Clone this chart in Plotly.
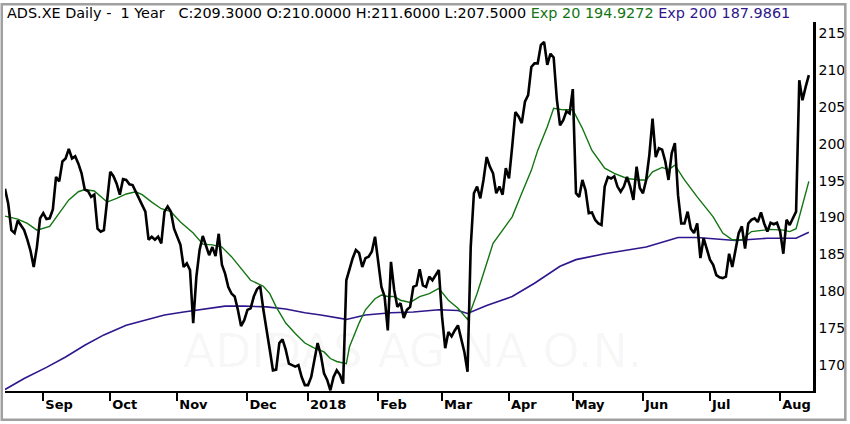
import pandas as pd
import plotly.graph_objects as go

# ADS.XE daily closes, one value per Xetra session, 16 Aug 2017 - 14 Aug 2018
closes = [
    193.9, 191.9, 188.3, 187.9, 189.6, 189.0, 188.3, 187.0, 185.5, 183.3,
    186.0, 189.9, 190.6, 189.8, 189.9, 191.1, 195.5, 194.9, 197.6, 198.0,
    199.3, 198.0, 198.3, 197.3, 196.0, 193.8, 193.6, 192.8, 193.1, 188.5,
    188.1, 188.3, 192.4, 196.2, 195.6, 194.6, 193.1, 195.2, 195.1, 194.5,
    194.4, 193.5, 192.4, 191.7, 190.8, 187.0, 187.4, 187.0, 187.4, 186.5,
    190.8, 191.5, 190.8, 188.5, 187.4, 186.3, 183.3, 183.8, 182.9, 175.7,
    182.0, 185.6, 187.5, 186.3, 184.9, 186.0, 184.8, 187.8, 183.6, 182.4,
    180.6, 179.7, 179.3, 177.5, 175.3, 176.1, 177.5, 177.7, 179.3, 180.3,
    180.7, 177.5, 174.5, 172.1, 169.3, 169.4, 173.0, 173.5, 172.1, 170.2,
    170.0, 169.8, 170.0, 168.4, 167.3, 167.3, 168.4, 170.9, 173.0, 171.4,
    168.9, 168.0, 166.6, 168.4, 169.3, 168.7, 167.5, 181.5, 183.1, 184.5,
    185.6, 185.2, 183.3, 184.5, 184.7, 185.4, 187.4, 183.8, 180.6, 179.3,
    174.7, 184.0, 180.2, 177.9, 178.4, 176.4, 177.5, 177.9, 180.6, 180.8,
    183.0, 180.8, 180.6, 182.0, 181.5, 182.2, 182.9, 176.6, 172.3, 174.5,
    173.9, 174.7, 175.4, 173.6, 171.8, 169.1, 186.0, 193.3, 194.2, 192.6,
    195.1, 198.2, 196.9, 196.0, 193.3, 194.2, 193.1, 196.7, 195.3, 199.6,
    204.3, 203.7, 202.8, 205.7, 206.6, 210.4, 210.9, 210.9, 213.4, 213.8,
    210.7, 212.2, 211.7, 206.0, 202.5, 203.2, 204.4, 204.1, 207.4, 193.3,
    192.8, 195.1, 193.7, 190.6, 190.7, 189.7, 189.2, 189.0, 194.2, 195.5,
    195.3, 195.6, 194.2, 193.5, 194.2, 195.5, 194.2, 192.4, 196.9, 194.0,
    193.3, 195.1, 198.5, 203.4, 198.2, 199.4, 199.2, 197.6, 195.1, 198.7,
    200.1, 193.0, 189.2, 189.2, 190.8, 188.5, 187.9, 189.2, 184.5, 187.2,
    185.6, 184.3, 183.6, 182.2, 181.9, 181.8, 182.0, 185.1, 183.3, 185.8,
    187.9, 188.8, 185.8, 189.2, 189.7, 189.9, 189.4, 190.7, 189.2, 188.1,
    189.3, 189.1, 189.3, 188.1, 185.1, 189.7, 189.0, 189.9, 190.8, 208.6,
    205.9, 207.7, 209.3,
]

# exponential averages, read at these session numbers
ema20_days = [0, 4, 7, 10, 14, 17, 20, 23, 25, 28, 30, 32, 35, 38, 41, 43, 46, 49,
              52, 55, 59, 62, 65, 68, 71, 74, 77, 81, 83, 85, 88, 91, 94, 97, 100,
              102, 104, 107, 108, 111, 113, 116, 118, 120, 122, 124, 127, 130, 133,
              136, 139, 142, 145, 148, 151, 153, 156, 159, 162, 165, 167, 170, 172,
              175, 178, 181, 184, 188, 191, 195, 199, 201, 203, 206, 208, 210, 213,
              217, 222, 225, 228, 231, 234, 237, 240, 244, 246, 248, 250, 252]
ema20 = [190.2, 189.8, 189.2, 188.3, 188.8, 190.6, 192.4, 193.5, 193.8, 193.6, 192.8,
         192.1, 192.6, 193.2, 193.5, 193.1, 192.1, 191.2, 190.8, 189.4, 187.9, 186.4,
         186.3, 186.0, 184.7, 183.1, 181.5, 180.7, 179.7, 177.9, 175.7, 174.3, 173.0,
         172.3, 171.8, 170.9, 170.5, 170.2, 172.5, 175.7, 177.5, 179.0, 179.5, 179.3,
         179.3, 178.8, 178.5, 179.3, 179.7, 180.4, 178.8, 177.7, 176.2, 179.7, 183.8,
         186.5, 188.3, 190.1, 193.3, 196.4, 199.1, 202.3, 204.8, 204.6, 204.6, 202.1,
         199.1, 196.7, 196.0, 195.3, 195.1, 195.1, 196.2, 196.8, 196.5, 197.1, 195.1,
         192.8, 190.1, 187.9, 187.0, 187.0, 188.1, 188.3, 188.4, 188.3, 188.1, 188.5,
         191.9, 194.9]

ema200_days = [0, 6, 13, 19, 25, 31, 38, 44, 50, 56, 63, 69, 75, 82, 88, 94, 99, 107,
               113, 121, 128, 136, 142, 145, 151, 159, 166, 174, 179, 188, 201, 211,
               217, 229, 239, 248, 252]
ema200 = [166.7, 168.2, 169.7, 171.1, 172.7, 174.1, 175.4, 176.1, 176.8, 177.2, 177.6,
          178.0, 178.0, 177.9, 177.6, 177.1, 176.8, 176.2, 176.8, 177.1, 177.2, 177.5,
          177.4, 177.0, 178.1, 179.3, 181.1, 183.4, 184.3, 185.1, 186.0, 187.3, 187.3,
          186.9, 187.2, 187.2, 188.0]

# last bar
last_close, last_open, last_high, last_low = 209.3, 210.0, 211.6, 207.5
ema20_last, ema200_last = 194.9272, 187.9861

month_labels = ["Sep", "Oct", "Nov", "Dec", "2018", "Feb", "Mar", "Apr", "May",
                "Jun", "Jul", "Aug"]
price_ticks = [170, 175, 180, 185, 190, 195, 200, 205, 210, 215]

holidays = ["2017-10-31", "2017-12-25", "2017-12-26", "2018-01-01",
            "2018-03-30", "2018-04-02", "2018-05-01"]
sessions = pd.bdate_range("2017-08-16", "2018-08-14")
sessions = sessions[~sessions.isin(pd.to_datetime(holidays))]
assert len(sessions) == len(closes)

days = list(range(len(sessions)))
month_starts = [i for i in days[1:] if sessions[i].month != sessions[i - 1].month]

GREEN = "#127512"
PURPLE = "#2f168c"
FONT = "DejaVu Sans"

fig = go.Figure()

fig.add_trace(go.Scatter(
    x=ema200_days, y=ema200, mode="lines",
    line=dict(color=PURPLE, width=1.6), name="Exp 200", hoverinfo="skip"))
fig.add_trace(go.Scatter(
    x=ema20_days, y=ema20, mode="lines",
    line=dict(color=GREEN, width=1.4), name="Exp 20", hoverinfo="skip"))
fig.add_trace(go.Scatter(
    x=days, y=closes, mode="lines",
    line=dict(color="black", width=2.6), name="ADS.XE",
    text=[d.strftime("%d %b %Y") for d in sessions],
    hovertemplate="%{text}<br>%{y:.2f}<extra></extra>"))

title = (
    "ADS.XE Daily -\u00a0\u00a01 Year\u00a0\u00a0\u00a0"
    f"C:{last_close:.4f} O:{last_open:.4f} H:{last_high:.4f} L:{last_low:.4f} "
    f"<span style='color:{GREEN}'>Exp 20 {ema20_last:.4f}</span> "
    f"<span style='color:{PURPLE}'>Exp 200 {ema200_last:.4f}</span>"
)

fig.update_layout(
    width=850, height=424,
    margin=dict(l=5, r=37, t=22, b=33),
    paper_bgcolor="white", plot_bgcolor="white",
    showlegend=False,
    font=dict(family=FONT, color="black"),
    xaxis=dict(
        range=[0, 253.3], showgrid=False, zeroline=False,
        tickvals=month_starts, ticktext=month_labels,
        ticks="outside", ticklen=8, tickwidth=2, tickcolor="black",
        ticklabelposition="outside right",
        tickfont=dict(family=FONT, size=13, weight="bold"),
        showline=True, linecolor="black", linewidth=2,
    ),
    yaxis=dict(
        range=[166.5, 216.5], side="right", showgrid=False, zeroline=False,
        tickvals=price_ticks, ticks="",
        tickfont=dict(family=FONT, size=14),
        showline=True, linecolor="black", linewidth=2.5,
    ),
    annotations=[
        dict(text=title, xref="paper", yref="paper", x=0, y=1,
             xanchor="left", yanchor="middle", yshift=9, showarrow=False,
             font=dict(family=FONT, size=14.4, color="black")),
        dict(text="ADIDAS AG NA O.N.", xref="paper", yref="paper", x=0.505, y=0.111,
             xanchor="center", yanchor="middle", showarrow=False,
             font=dict(family=FONT, size=47, color="rgba(0,0,0,0.035)")),
    ],
    shapes=[
        dict(type="rect", xref="paper", yref="paper",
             x0=-0.004, x1=1.04, y0=-0.078, y1=1.048,
             line=dict(color="#a0a0a0", width=2.5), fillcolor="rgba(0,0,0,0)"),
    ],
)

# page body margin would push the 850x424 figure off the window
fig.write_html("out.html", config={"displayModeBar": False},
               post_script="document.body.style.margin='0';")
